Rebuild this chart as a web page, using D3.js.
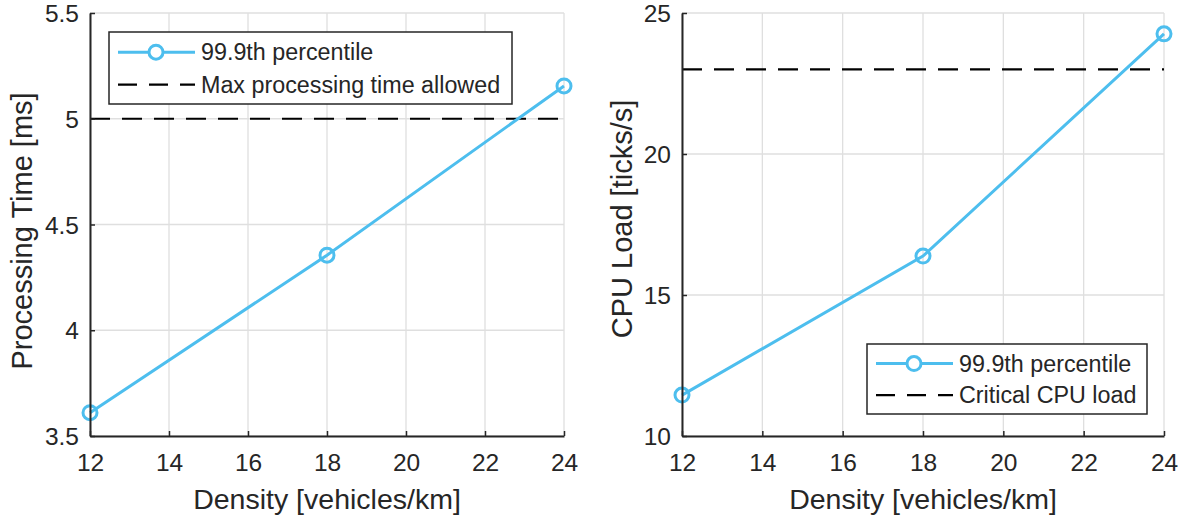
<!DOCTYPE html>
<html>
<head>
<meta charset="utf-8">
<script src="https://cdn.jsdelivr.net/npm/d3@7/dist/d3.min.js"></script>
<style>
  html, body { margin: 0; padding: 0; background: #fff; }
  svg { display: block; }
  text { font-family: "Liberation Sans", Arial, Helvetica, sans-serif; fill: #262626; }
</style>
</head>
<body>
<svg id="chart" width="1188" height="523"></svg>
<script>
// Density of vehicles on the road segment
const density = [12, 18, 24];
const xTicks = [12, 14, 16, 18, 20, 22, 24];

// Left panel: 99.9th percentile processing time (ms)
const procTime = [3.61, 4.355, 5.155];
const procLimit = 5;
const procTicks = [3.5, 4, 4.5, 5, 5.5];
const procTickLabels = ["3.5", "4", "4.5", "5", "5.5"];

// Right panel: 99.9th percentile CPU load (ticks/s)
const cpuLoad = [11.45, 16.38, 24.26];
const cpuLimit = 23;
const cpuTicks = [10, 15, 20, 25];
const cpuTickLabels = ["10", "15", "20", "25"];

const LINE = "#4DBEEE";
const AX = "#262626";
const GRID = "#dfdfdf";

const svg = d3.select("#chart");

function panel(cfg) {
  const g = svg.append("g");
  const x = d3.scaleLinear().domain([12, 24]).range([cfg.left, cfg.right]);
  const y = d3.scaleLinear().domain(cfg.yDomain).range([cfg.bottom, cfg.top]);

  // grid
  g.append("g").selectAll("line").data(xTicks).join("line")
    .attr("x1", d => x(d)).attr("x2", d => x(d))
    .attr("y1", cfg.top).attr("y2", cfg.bottom)
    .attr("stroke", GRID).attr("stroke-width", 1.3);
  g.append("g").selectAll("line").data(cfg.yTicks).join("line")
    .attr("x1", cfg.left).attr("x2", cfg.right)
    .attr("y1", d => y(d)).attr("y2", d => y(d))
    .attr("stroke", GRID).attr("stroke-width", 1.3);

  // threshold
  g.append("line")
    .attr("x1", cfg.left).attr("x2", cfg.right)
    .attr("y1", y(cfg.limit)).attr("y2", y(cfg.limit))
    .attr("stroke", "#000").attr("stroke-width", 2.2)
    .attr("stroke-dasharray", "20 12");

  // series
  const pts = density.map((d, i) => [d, cfg.values[i]]);
  g.append("path").datum(pts)
    .attr("d", d3.line().x(d => x(d[0])).y(d => y(d[1])))
    .attr("fill", "none").attr("stroke", LINE).attr("stroke-width", 3);
  g.append("g").selectAll("circle").data(pts).join("circle")
    .attr("cx", d => x(d[0])).attr("cy", d => y(d[1])).attr("r", 7)
    .attr("fill", "none").attr("stroke", LINE).attr("stroke-width", 3);

  // axes
  const xAxis = d3.axisBottom(x).tickValues(xTicks).tickSizeInner(-5).tickSizeOuter(0)
    .tickPadding(18).tickFormat(d3.format("d"));
  const xa = g.append("g").attr("transform", `translate(0,${cfg.bottom})`).call(xAxis);
  const yAxis = d3.axisLeft(y).tickValues(cfg.yTicks).tickSizeInner(-5).tickSizeOuter(0)
    .tickPadding(11).tickFormat((d, i) => cfg.yLabels[i]);
  const ya = g.append("g").attr("transform", `translate(${cfg.left},0)`).call(yAxis);
  [xa, ya].forEach(a => {
    a.select(".domain").attr("stroke", AX).attr("stroke-width", 2);
    a.selectAll(".tick line").attr("stroke", AX).attr("stroke-width", 1.5);
    a.selectAll(".tick text").style("font-size", "24.5px").attr("fill", AX)
      .style("font-family", '"Liberation Sans", Arial, sans-serif');
  });
  xa.selectAll(".tick text").attr("dy", "0.71em");
  ya.selectAll(".tick text").attr("dy", "0.35em");

  // axis titles
  g.append("text")
    .attr("x", (cfg.left + cfg.right) / 2).attr("y", 509)
    .attr("text-anchor", "middle").style("font-size", "28.5px")
    .text("Density [vehicles/km]");
  g.append("text")
    .attr("transform", `translate(${cfg.yTitleX},${cfg.yTitleY}) rotate(-90)`)
    .attr("text-anchor", "middle").style("font-size", "29px")
    .text(cfg.yTitle);

  // legend
  const L = cfg.legend;
  const lg = g.append("g");
  lg.append("rect").attr("x", L.x).attr("y", L.y).attr("width", L.w).attr("height", L.h)
    .attr("fill", "#fff").attr("stroke", AX).attr("stroke-width", 1.5);
  const r1 = L.y + L.h * 0.28, r2 = L.y + L.h * 0.73;
  lg.append("line").attr("x1", L.x + 9).attr("x2", L.x + 86).attr("y1", r1).attr("y2", r1)
    .attr("stroke", LINE).attr("stroke-width", 3);
  lg.append("circle").attr("cx", L.x + 47).attr("cy", r1).attr("r", 7)
    .attr("fill", "#fff").attr("stroke", LINE).attr("stroke-width", 3);
  lg.append("line").attr("x1", L.x + 9).attr("x2", L.x + 86).attr("y1", r2).attr("y2", r2)
    .attr("stroke", "#000").attr("stroke-width", 2.2).attr("stroke-dasharray", "19 12");
  lg.append("text").attr("x", L.x + 92).attr("y", r1).attr("dy", "0.35em")
    .style("font-size", "23.3px").text("99.9th percentile");
  lg.append("text").attr("x", L.x + 92).attr("y", r2).attr("dy", "0.35em")
    .style("font-size", "23.3px").text(cfg.limitLabel);
}

panel({
  left: 90, right: 564, top: 13, bottom: 436,
  yDomain: [3.5, 5.5], yTicks: procTicks, yLabels: procTickLabels,
  values: procTime, limit: procLimit,
  yTitle: "Processing Time [ms]", yTitleX: 32, yTitleY: 231,
  limitLabel: "Max processing time allowed",
  legend: { x: 109, y: 32, w: 403, h: 72 }
});

panel({
  left: 682, right: 1164, top: 13, bottom: 436,
  yDomain: [10, 25], yTicks: cpuTicks, yLabels: cpuTickLabels,
  values: cpuLoad, limit: cpuLimit,
  yTitle: "CPU Load [ticks/s]", yTitleX: 632, yTitleY: 219,
  limitLabel: "Critical CPU load",
  legend: { x: 867, y: 344, w: 280, h: 70 }
});
</script>
</body>
</html>
